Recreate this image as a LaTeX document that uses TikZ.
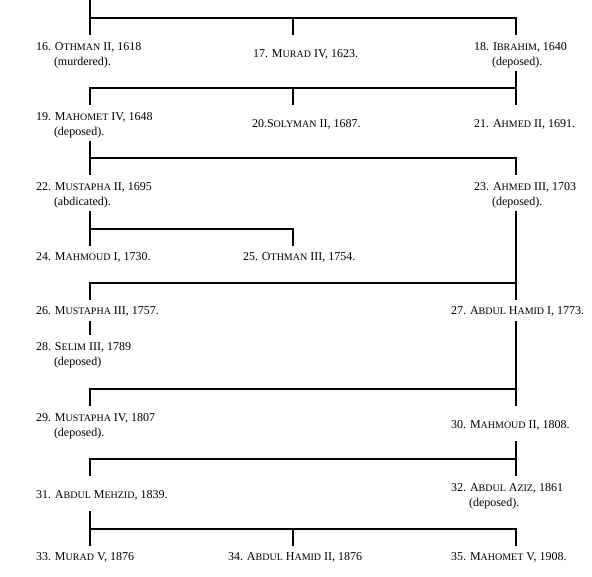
\documentclass[tikz,border=0pt]{standalone}
\usepackage{fontspec}
\setmainfont{Liberation Serif}
\usetikzlibrary{calc}
\newcommand\sk[2]{#1{\fontsize{10}{10}\selectfont #2}}
\newcommand\twoln[2]{\rule{0pt}{15pt}#1\\\hspace*{18pt}#2\rule[-5pt]{0pt}{5pt}}
\tikzset{
  ruler/.style={inner sep=0pt, outer sep=0pt, anchor=north west, font=\fontsize{12}{15.5}\selectfont},
  sgl/.style={ruler, text height=14.5pt, text depth=6pt},
  ctr/.style={ruler, text height=22.5pt, text depth=12.5pt},
  dbl/.style={ruler, align=left},
  link/.style={line width=2pt},
}
\begin{document}
\begin{tikzpicture}[x=1pt, y=-1pt]
  \useasboundingbox (0,0) rectangle (592,576);
  % columns
  \coordinate (L) at (90,0);
  \coordinate (M) at (293,0);
  \coordinate (R) at (516,0);
  % rulers
  \node[dbl] (s16) at (36,35) {\twoln{16. \sk{O}{THMAN} II, 1618}{(murdered).}};
  \node[ctr] (s17) at (253,35) {17. \sk{M}{URAD} IV, 1623.};
  \node[dbl] (s18) at (474,35) {\twoln{18. \sk{I}{BRAHIM}, 1640}{(deposed).}};
  \node[dbl] (s19) at (36,105) {\twoln{19. \sk{M}{AHOMET} IV, 1648}{(deposed).}};
  \node[ctr] (s20) at (252,105) {20.\sk{S}{OLYMAN} II, 1687.};
  \node[ctr] (s21) at (474,105) {21. \sk{A}{HMED} II, 1691.};
  \node[dbl] (s22) at (36,175) {\twoln{22. \sk{M}{USTAPHA} II, 1695}{(abdicated).}};
  \node[dbl] (s23) at (474,175) {\twoln{23. \sk{A}{HMED} III, 1703}{(deposed).}};
  \node[sgl] (s24) at (36,246) {24. \sk{M}{AHMOUD} I, 1730.};
  \node[sgl] (s25) at (243,246) {25. \sk{O}{THMAN} III, 1754.};
  \node[sgl] (s26) at (36,300) {26. \sk{M}{USTAPHA} III, 1757.};
  \node[sgl] (s27) at (451,300) {27. \sk{A}{BDUL} \sk{H}{AMID} I, 1773.};
  \node[dbl] (s28) at (36,335) {\twoln{28. \sk{S}{ELIM} III, 1789}{(deposed)}};
  \node[dbl] (s29) at (36,406) {\twoln{29. \sk{M}{USTAPHA} IV, 1807}{(deposed).}};
  \node[ctr] (s30) at (451,406) {30. \sk{M}{AHMOUD} II, 1808.};
  \node[ctr] (s31) at (36,476) {31. \sk{A}{BDUL} \sk{M}{EHZID}, 1839.};
  \node[dbl] (s32) at (451,476) {\twoln{32. \sk{A}{BDUL} \sk{A}{ZIZ}, 1861}{(deposed).}};
  \node[sgl] (s33) at (36,546) {33. \sk{M}{URAD} V, 1876};
  \node[sgl] (s34) at (228,546) {34. \sk{A}{BDUL} \sk{H}{AMID} II, 1876};
  \node[sgl] (s35) at (451,546) {35. \sk{M}{AHOMET} V, 1908.};
  % bars
  \coordinate (b1) at ([yshift=17.5pt]s16.north);
  \coordinate (b2) at ([yshift=17.5pt]s19.north);
  \coordinate (b3) at ([yshift=17.5pt]s22.north);
  \coordinate (b4) at ([yshift=17.5pt]s24.north);
  \coordinate (b5) at ([yshift=17.5pt]s26.north);
  \coordinate (b6) at ([yshift=17.5pt]s29.north);
  \coordinate (b7) at ([yshift=17.5pt]s31.north);
  \coordinate (b8) at ([yshift=17.5pt]s33.north);
  % lines of descent
  \draw[link] (L) -- (L |- s16.north);
  \draw[link] (L |- b1) -| (R |- s18.north);
  \draw[link] (M |- b1) -- (M |- s17.north);
  \draw[link] (R |- s18.south) -- (R |- s21.north);
  \draw[link] (R |- b2) -| (L |- s19.north);
  \draw[link] (M |- b2) -- (M |- s20.north);
  \draw[link] (L |- s19.south) -- (L |- s22.north);
  \draw[link] (L |- b3) -| (R |- s23.north);
  \draw[link] (L |- s22.south) -- (L |- s24.north);
  \draw[link] (L |- b4) -| (M |- s25.north);
  \draw[link] (R |- s23.south) -- (R |- s27.north);
  \draw[link] (R |- b5) -| (L |- s26.north);
  \draw[link] (L |- s26.south) -- (L |- s28.north);
  \draw[link] (R |- s27.south) -- (R |- s30.north);
  \draw[link] (R |- b6) -| (L |- s29.north);
  \draw[link] (R |- s30.south) -- (R |- s32.north);
  \draw[link] (R |- b7) -| (L |- s31.north);
  \draw[link] (L |- s31.south) -- (L |- s33.north);
  \draw[link] (L |- b8) -| (R |- s35.north);
  \draw[link] (M |- b8) -- (M |- s34.north);
\end{tikzpicture}
\end{document}
